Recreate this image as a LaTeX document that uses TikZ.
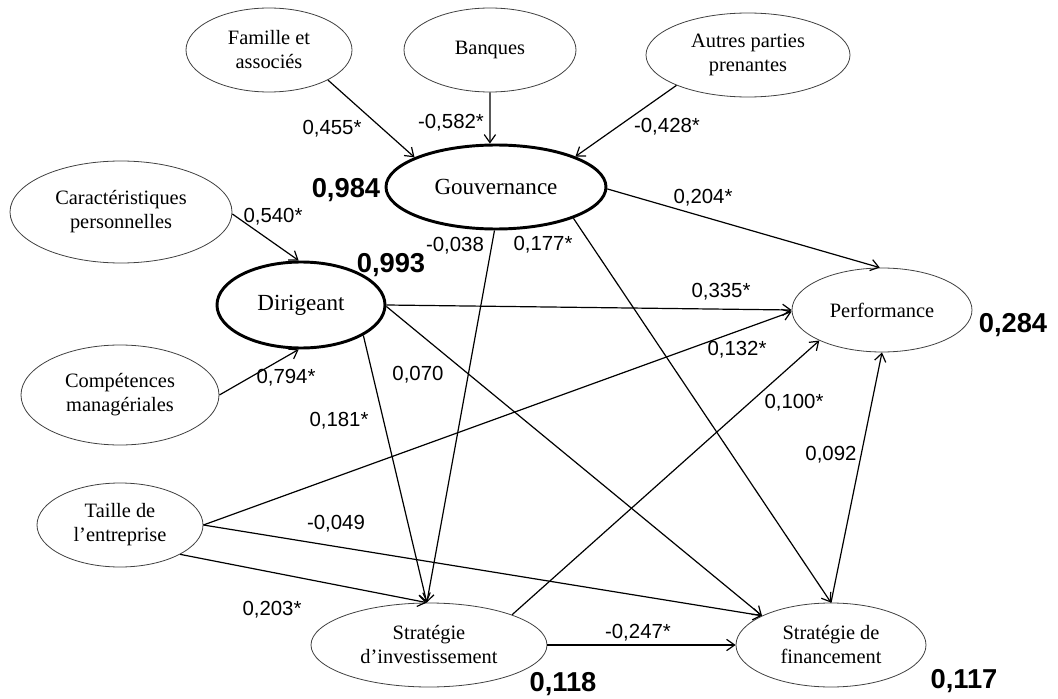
\documentclass[tikz,border=0pt]{standalone}
\usepackage{fontspec}
\setmainfont{Liberation Serif}
\setsansfont{Liberation Sans}
\usetikzlibrary{arrows.meta,shapes.geometric}

\begin{document}
\begin{tikzpicture}[x=0.75pt,y=-0.75pt,line width=0.9pt,
  >={Straight Barb[length=6pt,width=8.5pt]},
  var/.style={ellipse,draw=black!75,line width=0.6pt,inner sep=0pt,align=center,
    font=\fontsize{15.3}{18}\selectfont},
  latent/.style={var,draw=black,line width=2.2pt,font=\fontsize{17.3}{20}\selectfont},
  coef/.style={inner sep=0pt,font=\sffamily\fontsize{15.3}{17}\selectfont},
  rsq/.style={inner sep=0pt,font=\sffamily\bfseries\fontsize{20.5}{23}\selectfont}]
\useasboundingbox (0,0) rectangle (1058,699);
% ================= variables =================
\node[var,minimum width=124.5pt,minimum height=63pt] (fam) at (269,50) {Famille et\\associés};
\node[var,minimum width=129pt,minimum height=63pt] (banq) at (490,50) {Banques};
\node[var,minimum width=153pt,minimum height=63pt] (autr) at (748,55) {Autres parties\\prenantes};
\node[latent,minimum width=165pt,minimum height=63pt] (gouv) at (496,187) {Gouvernance};
\node[var,minimum width=166.5pt,minimum height=76.5pt] (cara) at (121,212) {Caractéristiques\\personnelles};
\node[latent,minimum width=126pt,minimum height=64.5pt] (diri) at (301,305) {Dirigeant};
\node[var,minimum width=148.5pt,minimum height=75pt] (comp) at (120,395) {Compétences\\managériales};
\node[var,minimum width=124.5pt,minimum height=63pt] (tail) at (120,525) {Taille de\\l’entreprise};
\node[var,minimum width=135pt,minimum height=63pt] (perf) at (882,310) {Performance};
\node[var,minimum width=177pt,minimum height=63pt] (inve) at (429,645) {Stratégie\\d’investissement};
\node[var,minimum width=142.5pt,minimum height=63pt] (fina) at (831,645) {Stratégie de\\financement};
% R2 values
\node[rsq] (r-gouv) at (346,190) {0,984};
\node[rsq] (r-diri) at (391,265) {0,993};
\node[rsq] (r-perf) at (1013,325) {0,284};
\node[rsq] (r-inve) at (563,684) {0,118};
\node[rsq] (r-fina) at (964,681) {0,117};
% ================= paths =================
\draw[->] (fam.-27) -- (gouv.160);
\draw[->] (banq.-90) -- (gouv.98);
\draw[->] (autr.203) -- (gouv.21);
\draw[->] (cara.-1) -- (diri.93);
\draw[->] (comp.0) -- (diri.267);
\draw[->] (gouv.-1) -- (perf.93);
\draw[->] (gouv.-92) -- (inve.93);
\draw[->] (gouv.-22) -- (fina.90);
\draw[->] (diri.0) -- (perf.180);
\draw[->] (diri.-26) -- (inve.93);
\draw[->] (diri.-1) -- (fina.157);
\draw[->] (tail.0) -- (perf.181);
\draw[->] (tail.0) -- (fina.157);
\draw[->] (tail.-26) -- (inve.93);
\draw[->] (inve.20) -- (perf.206);
\draw[->] (inve.0) -- (fina.180);
\draw[->] (fina.90) -- (perf.270);
% coefficients
\node[coef] (c-fam) at (332,129) {0,455*};
\node[coef] (c-banq) at (451,123) {-0,582*};
\node[coef] (c-autr) at (667,127) {-0,428*};
\node[coef] (c-cara) at (273,217) {0,540*};
\node[coef] (c-gp) at (703,198) {0,204*};
\node[coef] (c-gi) at (455,246) {-0,038};
\node[coef] (c-gf) at (543,245) {0,177*};
\node[coef] (c-dp) at (721,292) {0,335*};
\node[coef] (c-tp) at (737,350) {0,132*};
\node[coef] (c-comp) at (286,378) {0,794*};
\node[coef] (c-df) at (418,375) {0,070};
\node[coef] (c-di) at (339,421) {0,181*};
\node[coef] (c-ip) at (794,403) {0,100*};
\node[coef] (c-fp) at (831,455) {0,092};
\node[coef] (c-tf) at (336,524) {-0,049};
\node[coef] (c-ti) at (272,610) {0,203*};
\node[coef] (c-if) at (638,633) {-0,247*};
\end{tikzpicture}
\end{document}
